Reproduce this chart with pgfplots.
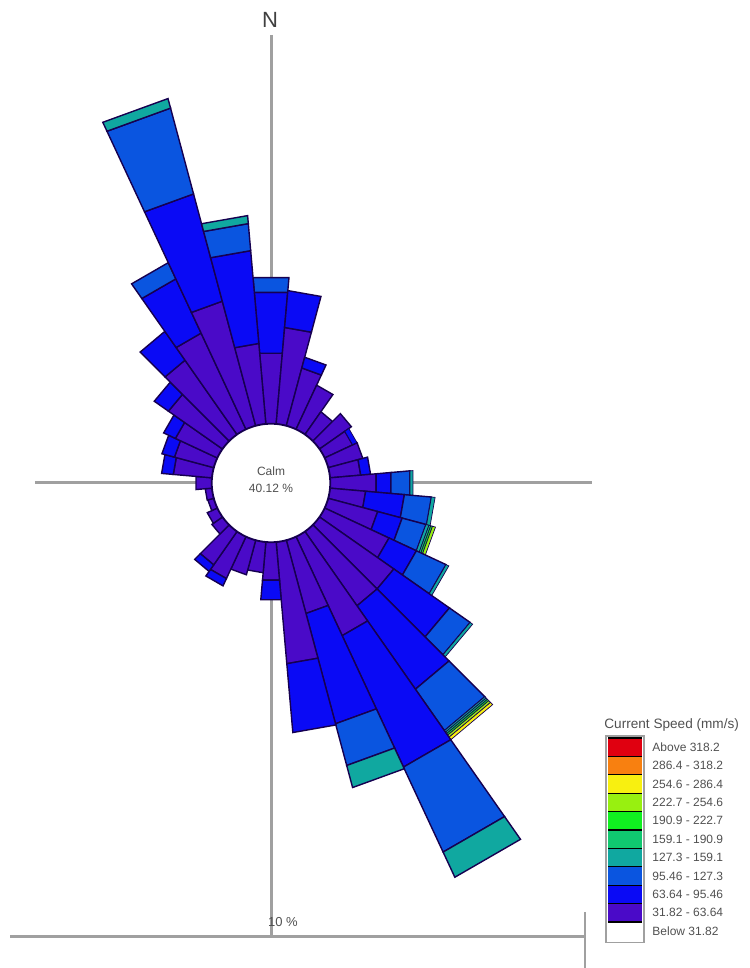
\documentclass[border=0pt]{standalone}
\usepackage{pgfplots}
\pgfplotsset{compat=1.18}
\usepackage{pgfplotstable}
\usepackage{fontspec}
\setmainfont{Liberation Sans}

% speed classes, slowest first
\definecolor{band1}{HTML}{4A0AC8}
\definecolor{band2}{HTML}{0A0AF5}
\definecolor{band3}{HTML}{0A55E0}
\definecolor{band4}{HTML}{10A8A0}
\definecolor{band5}{HTML}{10C870}
\definecolor{band6}{HTML}{10F020}
\definecolor{band7}{HTML}{98F010}
\definecolor{band8}{HTML}{F8F010}
\definecolor{band9}{HTML}{F88010}
\definecolor{band10}{HTML}{E00010}
\definecolor{edgecol}{HTML}{160050}
\definecolor{guide}{HTML}{A0A0A0}
\definecolor{txt}{HTML}{505050}

% frequency (%) of each speed class per 10-degree direction sector
\pgfplotstableread{
d   c1   c2   c3   c4   c5   c6   c7   c8
0   1.15 0.99 0.24 0    0    0    0    0
10  1.57 0.60 0    0    0    0    0    0
20  0.97 0.18 0    0    0    0    0    0
30  0.79 0    0    0    0    0    0    0
40  0.45 0    0    0    0    0    0    0
50  0.63 0    0    0    0    0    0    0
60  0.50 0.08 0    0    0    0    0    0
70  0.58 0    0    0    0    0    0    0
80  0.50 0.16 0    0    0    0    0    0
90  0.75 0.24 0.31 0.05 0    0    0    0
100 0.58 0.63 0.44 0.06 0    0    0    0
110 0.83 0.41 0.40 0.05 0.03 0.03 0.05 0
120 1.15 0.49 0.53 0.05 0    0    0    0
130 1.47 1.10 0.41 0.05 0    0    0    0
140 1.47 1.65 0.82 0.03 0.03 0.03 0.04 0.05
150 1.77 2.35 1.52 0.45 0    0    0    0
160 1.23 1.85 0.70 0.37 0    0    0    0
170 1.98 1.12 0    0    0    0    0    0
180 0.62 0.32 0    0    0    0    0    0
190 0.50 0    0    0    0    0    0    0
200 0.58 0    0    0    0    0    0    0
210 0.75 0.13 0    0    0    0    0    0
220 0.66 0.13 0    0    0    0    0    0
230 0.21 0    0    0    0    0    0    0
240 0.18 0    0    0    0    0    0    0
250 0.10 0    0    0    0    0    0    0
260 0.11 0    0    0    0    0    0    0
270 0.26 0    0    0    0    0    0    0
280 0.63 0.19 0    0    0    0    0    0
290 0.66 0.21 0    0    0    0    0    0
300 0.75 0.21 0    0    0    0    0    0
310 1.07 0.28 0    0    0    0    0    0
320 1.47 0.57 0    0    0    0    0    0
330 1.72 0.97 0.29 0    0    0    0    0
340 2.09 1.80 1.44 0.16 0    0    0    0
350 1.31 1.51 0.44 0.13 0    0    0    0
}\rosedata

% radius of the calm circle, in percent units
\def\calm{0.96}

% one stacked segment of the current sector (\i, \dir), class #1
\newcommand\roseband[1]{%
  \pgfplotstablegetelem{\i}{c#1}\of\rosedata
  \let\val\pgfplotsretval
  \ifdim\val pt>0pt
    \pgfmathsetmacro\rhi{\rlo+\val}%
    \pgfmathsetmacro\xa{\rlo*sin(\dir-5)}%
    \pgfmathsetmacro\ya{\rlo*cos(\dir-5)}%
    \pgfmathsetmacro\xb{\rhi*sin(\dir-5)}%
    \pgfmathsetmacro\yb{\rhi*cos(\dir-5)}%
    \pgfmathsetmacro\xc{\rhi*sin(\dir+5)}%
    \pgfmathsetmacro\yc{\rhi*cos(\dir+5)}%
    \pgfmathsetmacro\xd{\rlo*sin(\dir+5)}%
    \pgfmathsetmacro\yd{\rlo*cos(\dir+5)}%
    \ifdim\val pt<0.1pt \def\lw{0.35pt}\else\def\lw{0.7pt}\fi
    \edef\cmd{\noexpand\addplot[draw=edgecol,line width=\lw,fill=band#1]
      coordinates {(\xa,\ya) (\xb,\yb) (\xc,\yc) (\xd,\yd)} -- cycle;}%
    \cmd
    \xdef\rlo{\rhi}%
  \fi
}

\begin{document}
\begin{tikzpicture}
\begin{axis}[
  x=30.85pt, y=30.85pt,
  xmin=-4.3922, xmax=7.7472,
  ymin=-7.8606, ymax=7.8282,
  hide axis, clip=false,
]
  \coordinate (bl) at (rel axis cs:0,0);
  \coordinate (tr) at (rel axis cs:1,1);
  \coordinate (ctr) at (axis cs:0,0);
  % compass cross
  \draw[guide, line width=1.5pt] (axis cs:-3.825,0) -- (axis cs:5.203,0);
  \draw[guide, line width=1.5pt] (axis cs:0,7.261) -- (axis cs:0,-7.358);

  \pgfplotsforeachungrouped \i in {0,...,35}{%
    \pgfplotstablegetelem{\i}{d}\of\rosedata
    \xdef\dir{\pgfplotsretval}%
    \xdef\rlo{\calm}%
    \roseband{1}\roseband{2}\roseband{3}\roseband{4}%
    \roseband{5}\roseband{6}\roseband{7}\roseband{8}%
  }

  % calm circle
  \draw[edgecol, line width=0.9pt, fill=white] (axis cs:0,0) circle[radius=\calm];
\end{axis}

\begin{scope}[shift={(ctr)}, x=0.5pt, y=-0.5pt]
  \node[txt, font=\fontsize{6}{7}\selectfont] at (0,-12) {Calm};
  \node[txt, font=\fontsize{6}{7}\selectfont] at (0,5) {40.12 \%};
  \node[black!75, font=\fontsize{11}{12}\selectfont] at (-1,-463) {N};

  % scale bar
  \draw[guide, line width=1.5pt] (-261,454) -- (314,454);
  \draw[guide, line width=1.2pt] (314,429) -- (314,485);
  \node[txt, font=\fontsize{6.5}{7}\selectfont] at (12,439) {10 \%};

  % legend
  \node[txt, font=\fontsize{6.8}{7.5}\selectfont, anchor=west, inner sep=0pt] at (333,242) {Current Speed (mm/s)};
  \foreach \c/\t [count=\n from 0] in {band10/Above  318.2, band9/286.4 - 318.2,
      band8/254.6 - 286.4, band7/222.7 - 254.6, band6/190.9 - 222.7,
      band5/159.1 - 190.9, band4/127.3 - 159.1, band3/95.46 - 127.3,
      band2/63.64 - 95.46, band1/31.82 - 63.64, white/Below  31.82}{
    \fill[\c] (337,255+18.4*\n) rectangle (371,273.4+18.4*\n);
    \draw[black, line width=0.6pt] (337,255+18.4*\n) -- (371,255+18.4*\n);
    \node[txt, font=\fontsize{6}{7}\selectfont, anchor=west, inner sep=0pt] at (381,264.2+18.4*\n) {\t};
  }
  \draw[guide, line width=0.8pt] (335,253) rectangle (373,459.4);
\end{scope}
\pgfresetboundingbox
\path (bl) rectangle (tr);
\end{tikzpicture}
\end{document}
